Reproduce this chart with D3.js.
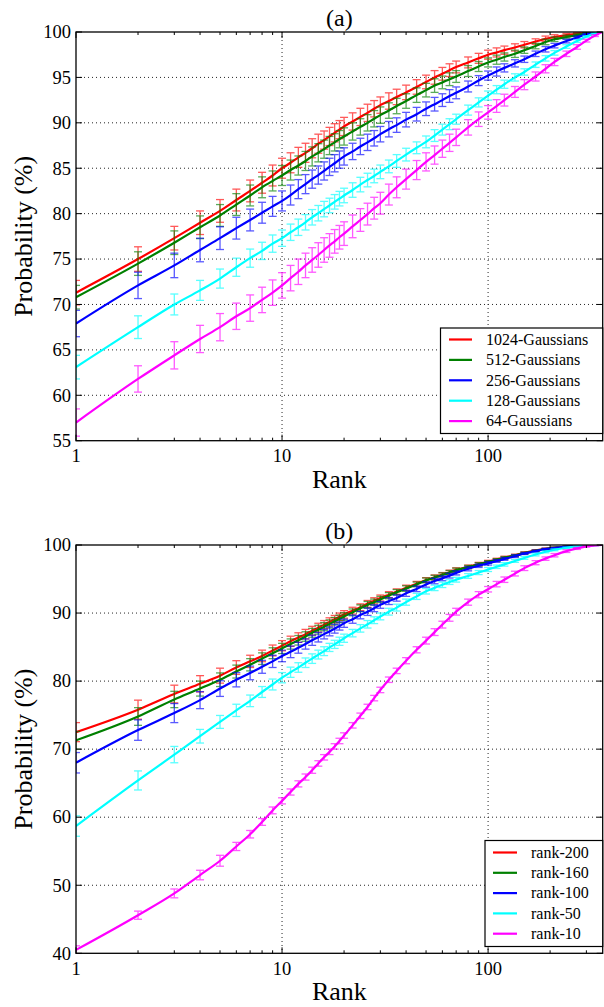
<!DOCTYPE html>
<html><head><meta charset="utf-8">
<script src="https://cdn.jsdelivr.net/npm/d3@7"></script>
<style>body{margin:0;background:#fff} svg{display:block} text{font-family:"Liberation Serif","Times New Roman",serif;fill:#000}</style>
</head><body><svg id="c" width="604" height="1007"></svg>
<script>
// ---------- data ----------
const ranks = [1,2,3,4,5,6,7,8,9,10,11,12,13,14,15,16,17,18,19,20,22,24,26,28,30,33,36,40,45,50,55,60,65,70,80,90,100,110,120,135,150,170,190,210,240,270,300,330,357];

const aRed     = [71.3,75.0,77.3,79.0,80.3,81.5,82.5,83.4,84.2,85.0,85.6,86.2,86.7,87.2,87.7,88.1,88.5,88.9,89.25,89.6,90.15,90.65,91.1,91.55,91.95,92.4,92.85,93.35,93.95,94.5,95.0,95.4,95.8,96.15,96.65,97.1,97.5,97.75,98.0,98.3,98.6,98.95,99.25,99.45,99.65,99.8,99.9,99.96,100];
const aGreen   = [70.8,74.5,76.8,78.5,79.8,81.0,82.0,82.9,83.6,84.2,84.8,85.3,85.8,86.3,86.7,87.1,87.5,87.85,88.2,88.5,89.05,89.55,90.0,90.45,90.85,91.35,91.85,92.4,93.05,93.6,94.1,94.45,94.8,95.1,95.7,96.2,96.65,96.95,97.25,97.6,98.0,98.45,98.9,99.2,99.45,99.65,99.85,99.95,100];
const aBlue    = [67.9,72.1,74.3,76.0,77.3,78.4,79.3,80.1,80.8,81.4,82.05,82.7,83.25,83.8,84.25,84.7,85.15,85.55,85.95,86.3,86.85,87.4,87.85,88.3,88.75,89.3,89.75,90.35,90.95,91.55,92.05,92.5,92.95,93.3,94.0,94.65,95.2,95.65,96.05,96.55,97.0,97.6,98.1,98.5,99.0,99.4,99.75,99.93,100];
const aCyan    = [63.1,67.5,70.0,71.55,72.85,74.1,75.1,75.9,76.7,77.3,77.95,78.5,79.05,79.6,80.05,80.5,80.9,81.3,81.65,82.0,82.6,83.2,83.7,84.15,84.6,85.2,85.8,86.5,87.25,87.9,88.6,89.25,89.85,90.4,91.4,92.25,93.0,93.65,94.25,95.0,95.6,96.4,97.1,97.7,98.4,99.0,99.5,99.85,100];
const aMagenta = [57.0,61.8,64.4,66.2,67.5,68.7,69.6,70.5,71.3,72.1,72.9,73.6,74.3,74.9,75.45,76.0,76.5,76.95,77.4,77.8,78.6,79.3,79.95,80.6,81.15,82.1,82.9,83.8,84.8,85.7,86.45,87.15,87.8,88.4,89.5,90.4,91.15,91.85,92.5,93.4,94.2,95.1,95.95,96.7,97.6,98.35,99.05,99.6,100];

const aErrRed     = [1.35,1.35,1.3,1.3,1.25,1.2,1.2,1.15,1.15,1.1,1.1,1.1,1.05,1.05,1.05,1.0,1.0,1.0,1.0,1.0,0.95,0.95,0.95,0.9,0.9,0.9,0.85,0.8,0.8,0.75,0.75,0.7,0.7,0.65,0.6,0.55,0.5,0.5,0.45,0.4,0.35,0.3,0.3,0.25,0.2,0.15,0.1,0.05,0];
const aErrGreen   = [1.3,1.3,1.3,1.25,1.2,1.2,1.15,1.15,1.1,1.1,1.1,1.05,1.05,1.05,1.0,1.0,1.0,0.95,0.95,0.95,0.95,0.9,0.9,0.9,0.9,0.85,0.85,0.8,0.8,0.75,0.75,0.7,0.7,0.65,0.6,0.55,0.5,0.5,0.45,0.4,0.35,0.3,0.3,0.25,0.2,0.15,0.1,0.05,0];
const aErrBlue    = [1.45,1.45,1.35,1.3,1.25,1.2,1.2,1.15,1.1,1.1,1.1,1.05,1.05,1.0,1.0,1.0,0.95,0.95,0.95,0.95,0.9,0.9,0.9,0.85,0.85,0.85,0.8,0.8,0.75,0.75,0.75,0.7,0.7,0.65,0.6,0.55,0.5,0.5,0.45,0.4,0.35,0.3,0.3,0.25,0.2,0.15,0.1,0.05,0];
const aErrCyan    = [1.3,1.25,1.15,1.1,1.05,1.0,1.0,0.95,0.95,0.9,0.9,0.9,0.85,0.85,0.85,0.85,0.8,0.8,0.8,0.8,0.8,0.8,0.75,0.75,0.75,0.7,0.7,0.7,0.65,0.65,0.65,0.6,0.6,0.55,0.55,0.5,0.5,0.45,0.45,0.4,0.35,0.3,0.3,0.25,0.2,0.15,0.1,0.05,0];
const aErrMagenta = [1.5,1.45,1.5,1.5,1.5,1.45,1.45,1.4,1.4,1.4,1.4,1.4,1.35,1.35,1.35,1.35,1.3,1.3,1.3,1.3,1.25,1.25,1.2,1.2,1.2,1.15,1.15,1.1,1.05,1.0,1.0,0.95,0.95,0.9,0.85,0.8,0.75,0.7,0.65,0.6,0.55,0.5,0.45,0.4,0.3,0.25,0.15,0.1,0];

const bRed     = [72.5,75.8,78.1,79.6,80.8,82.0,82.9,83.7,84.5,85.2,85.85,86.4,86.9,87.4,87.85,88.3,88.7,89.1,89.45,89.8,90.35,90.85,91.35,91.8,92.2,92.7,93.15,93.7,94.3,94.85,95.25,95.65,96.0,96.35,96.8,97.2,97.55,97.85,98.15,98.5,98.85,99.2,99.45,99.6,99.78,99.88,99.95,100,100];
const bGreen   = [71.3,74.8,77.3,78.9,80.2,81.4,82.4,83.3,84.1,84.8,85.45,86.0,86.55,87.1,87.55,88.0,88.4,88.8,89.15,89.5,90.1,90.7,91.2,91.6,92.0,92.55,93.05,93.6,94.2,94.8,95.2,95.6,95.95,96.3,96.75,97.15,97.5,97.8,98.1,98.45,98.8,99.15,99.4,99.58,99.75,99.87,99.95,100,100];
const bBlue    = [68.0,72.8,75.3,77.2,78.9,80.2,81.2,82.1,82.9,83.7,84.3,84.9,85.45,86.0,86.45,86.9,87.3,87.7,88.1,88.5,89.1,89.7,90.2,90.7,91.2,91.75,92.2,92.9,93.55,94.2,94.7,95.1,95.5,95.9,96.5,96.95,97.3,97.65,97.95,98.35,98.75,99.1,99.4,99.55,99.75,99.87,99.95,100,100];
const bCyan    = [58.7,65.4,69.2,71.9,74.0,75.7,77.1,78.4,79.5,80.5,81.3,82.0,82.7,83.3,83.9,84.4,84.95,85.4,85.85,86.3,87.05,87.75,88.35,88.95,89.5,90.2,90.8,91.6,92.45,93.2,93.7,94.15,94.55,94.9,95.45,95.95,96.4,96.8,97.15,97.65,98.1,98.6,99.0,99.3,99.6,99.8,99.9,99.97,100];
const bMagenta = [40.5,45.6,48.8,51.5,53.6,55.7,57.5,59.3,61.0,62.4,63.7,64.9,65.9,66.9,67.9,68.8,69.6,70.4,71.2,72.0,73.5,74.9,76.2,77.5,78.7,80.2,81.5,83.0,84.6,85.95,87.2,88.3,89.3,90.2,91.6,92.7,93.5,94.25,94.9,95.8,96.6,97.4,98.0,98.5,99.1,99.5,99.8,99.95,100];

const bErrRed     = [1.4,1.4,1.3,1.2,1.1,1.0,0.9,0.85,0.8,0.75,0.75,0.7,0.7,0.65,0.65,0.6,0.6,0.55,0.55,0.55,0.5,0.5,0.5,0.45,0.45,0.45,0.4,0.4,0.35,0.35,0.35,0.3,0.3,0.3,0.25,0.25,0.2,0.2,0.2,0.15,0.15,0.1,0.1,0.1,0.05,0.05,0.05,0,0];
const bErrGreen   = [1.3,1.3,1.2,1.1,1.0,0.95,0.9,0.85,0.8,0.75,0.75,0.7,0.7,0.65,0.65,0.6,0.6,0.55,0.55,0.55,0.5,0.5,0.5,0.45,0.45,0.45,0.4,0.4,0.35,0.35,0.35,0.3,0.3,0.3,0.25,0.25,0.2,0.2,0.2,0.15,0.15,0.1,0.1,0.1,0.05,0.05,0.05,0,0];
const bErrBlue    = [1.5,1.5,1.4,1.25,1.15,1.05,1.0,0.95,0.9,0.85,0.85,0.8,0.75,0.75,0.7,0.7,0.65,0.65,0.6,0.6,0.6,0.55,0.55,0.5,0.5,0.5,0.45,0.45,0.4,0.4,0.4,0.35,0.35,0.3,0.3,0.25,0.25,0.2,0.2,0.2,0.15,0.15,0.1,0.1,0.05,0.05,0.05,0,0];
const bErrCyan    = [1.5,1.4,1.2,1.0,0.95,0.9,0.85,0.8,0.8,0.75,0.75,0.7,0.7,0.7,0.65,0.65,0.6,0.6,0.6,0.6,0.55,0.55,0.55,0.5,0.5,0.5,0.5,0.45,0.45,0.4,0.4,0.4,0.35,0.35,0.35,0.3,0.3,0.25,0.25,0.2,0.2,0.2,0.15,0.15,0.1,0.1,0.05,0.05,0];
const bErrMagenta = [0.6,0.6,0.65,0.7,0.8,0.6,0.55,0.5,0.5,0.45,0.45,0.45,0.45,0.45,0.4,0.4,0.4,0.4,0.4,0.4,0.4,0.4,0.4,0.4,0.4,0.4,0.4,0.45,0.45,0.5,0.5,0.5,0.5,0.5,0.45,0.45,0.4,0.4,0.4,0.35,0.35,0.3,0.25,0.25,0.2,0.15,0.1,0.05,0];

const colors  = ["#ff0000","#008000","#0000ff","#00ffff","#ff00ff"];
const labelsA = ["1024-Gaussians","512-Gaussians","256-Gaussians","128-Gaussians","64-Gaussians"];
const labelsB = ["rank-200","rank-160","rank-100","rank-50","rank-10"];
const yTicksA = [55,60,65,70,75,80,85,90,95,100];
const yTicksB = [40,50,60,70,80,90,100];
const xTicks  = [1,10,100];
const xMinor  = [2,3,4,5,6,7,8,9,20,30,40,50,60,70,80,90,200,300];
const xLabel = "Rank", yLabel = "Probability (%)";

// ---------- drawing ----------
const svg = d3.select("#c");
const L = 76, R = 602.7;

function panel(o) {
  const x = d3.scaleLog().domain([1, 360]).range([L, R]);
  const y = d3.scaleLinear().domain(o.yDomain).range([o.bottom, o.top]);
  const g = svg.append("g");
  const cid = "clip" + o.id;
  g.append("clipPath").attr("id", cid).append("rect")
    .attr("x", L).attr("y", o.top).attr("width", R - L).attr("height", o.bottom - o.top);

  // grid
  const grid = g.append("g").attr("stroke", "#000").attr("stroke-width", 1)
    .attr("stroke-dasharray", "1,3").attr("opacity", 0.85);
  xTicks.filter(t => t > 1).forEach(t => grid.append("line")
    .attr("x1", x(t)).attr("x2", x(t)).attr("y1", o.top).attr("y2", o.bottom));
  o.yTicks.filter(t => t > o.yDomain[0] && t < o.yDomain[1]).forEach(t => grid.append("line")
    .attr("x1", L).attr("x2", R).attr("y1", y(t)).attr("y2", y(t)));

  // series
  const data = g.append("g").attr("clip-path", `url(#${cid})`);
  const line = d3.line().x((d, i) => x(ranks[i])).y(d => y(d)).curve(d3.curveMonotoneX);
  o.series.forEach((vals, si) => {
    const errs = o.errs[si];
    const c = colors[si];
    const eb = data.append("g").attr("stroke", c).attr("stroke-width", 1.3).attr("opacity", 0.65);
    vals.forEach((v, i) => {
      const e = errs[i];
      if (e <= 0) return;
      const xx = x(ranks[i]);
      eb.append("line").attr("x1", xx).attr("x2", xx).attr("y1", y(v - e)).attr("y2", y(v + e));
      eb.append("line").attr("x1", xx - 4).attr("x2", xx + 4).attr("y1", y(v - e)).attr("y2", y(v - e));
      eb.append("line").attr("x1", xx - 4).attr("x2", xx + 4).attr("y1", y(v + e)).attr("y2", y(v + e));
    });
    data.append("path").datum(vals).attr("d", line).attr("fill", "none")
      .attr("stroke", c).attr("stroke-width", 2.2);
  });

  // ticks (inward, all sides)
  const tk = g.append("g").attr("stroke", "#000").attr("stroke-width", 1);
  xTicks.forEach(t => {
    tk.append("line").attr("x1", x(t)).attr("x2", x(t)).attr("y1", o.bottom).attr("y2", o.bottom - 6);
    tk.append("line").attr("x1", x(t)).attr("x2", x(t)).attr("y1", o.top).attr("y2", o.top + 6);
  });
  xMinor.forEach(t => {
    tk.append("line").attr("x1", x(t)).attr("x2", x(t)).attr("y1", o.bottom).attr("y2", o.bottom - 3);
    tk.append("line").attr("x1", x(t)).attr("x2", x(t)).attr("y1", o.top).attr("y2", o.top + 3);
  });
  o.yTicks.forEach(t => {
    tk.append("line").attr("x1", L).attr("x2", L + 6).attr("y1", y(t)).attr("y2", y(t));
    tk.append("line").attr("x1", R).attr("x2", R - 6).attr("y1", y(t)).attr("y2", y(t));
  });

  // frame
  g.append("rect").attr("x", L).attr("y", o.top).attr("width", R - L).attr("height", o.bottom - o.top)
    .attr("fill", "none").attr("stroke", "#000").attr("stroke-width", 1.3);

  // tick labels
  o.yTicks.forEach(t => g.append("text").attr("x", L - 5).attr("y", y(t)).attr("dy", "0.34em")
    .attr("text-anchor", "end").attr("font-size", 18.5).attr("fill", "#222").text(t));
  xTicks.forEach(t => g.append("text").attr("x", x(t)).attr("y", o.bottom + 21.5)
    .attr("text-anchor", "middle").attr("font-size", 18.5).attr("fill", "#222").text(t));

  // axis labels & title
  g.append("text").attr("x", (L + R) / 2).attr("y", o.bottom + 47)
    .attr("text-anchor", "middle").attr("font-size", 26).text(xLabel);
  g.append("text").attr("transform", `translate(32,${(o.top + o.bottom) / 2}) rotate(-90)`)
    .attr("text-anchor", "middle").attr("font-size", 26).text(yLabel);
  g.append("text").attr("x", (L + R) / 2).attr("y", o.top - 6)
    .attr("text-anchor", "middle").attr("font-size", 24).text(o.title);

  // legend
  const lg = o.legend;
  g.append("rect").attr("x", lg.x0).attr("y", lg.y0).attr("width", lg.x1 - lg.x0).attr("height", lg.y1 - lg.y0)
    .attr("fill", "#fff").attr("stroke", "#000").attr("stroke-width", 1.2);
  o.labels.forEach((lab, i) => {
    const yy = lg.rowY + i * lg.rowH;
    g.append("line").attr("x1", lg.lx0).attr("x2", lg.lx1).attr("y1", yy).attr("y2", yy)
      .attr("stroke", colors[i]).attr("stroke-width", 2.2);
    g.append("text").attr("x", lg.tx).attr("y", yy).attr("dy", "0.33em")
      .attr("font-size", 16).text(lab);
  });
}

panel({
  id: "a", top: 32, bottom: 440.7, yDomain: [55, 100], yTicks: yTicksA, title: "(a)",
  series: [aRed, aGreen, aBlue, aCyan, aMagenta],
  errs: [aErrRed, aErrGreen, aErrBlue, aErrCyan, aErrMagenta],
  labels: labelsA,
  legend: {x0: 440.5, y0: 328, x1: 602.7, y1: 433.5, lx0: 449, lx1: 472, tx: 486, rowY: 339.5, rowH: 20.4}
});
panel({
  id: "b", top: 545, bottom: 953.3, yDomain: [40, 100], yTicks: yTicksB, title: "(b)",
  series: [bRed, bGreen, bBlue, bCyan, bMagenta],
  errs: [bErrRed, bErrGreen, bErrBlue, bErrCyan, bErrMagenta],
  labels: labelsB,
  legend: {x0: 485, y0: 840.5, x1: 602.7, y1: 946.5, lx0: 493, lx1: 517, tx: 531, rowY: 852.5, rowH: 20.3}
});
</script></body></html>
